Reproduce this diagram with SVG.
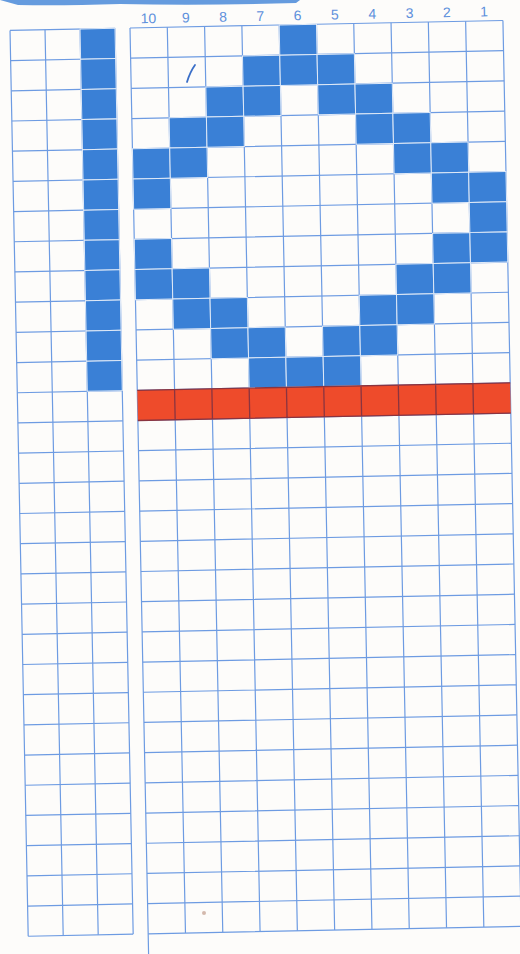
<svg xmlns="http://www.w3.org/2000/svg" width="520" height="954" viewBox="0 0 520 954">
<style>
.g{fill:none;stroke:#6d9be2;stroke-width:1.2}
.b{fill:#3a80d6;stroke:#dfe9f7;stroke-width:1}
.r{fill:#ee4b2b}
.rl{fill:none;stroke:#8a3440;stroke-width:1.3}
.n{font-family:"Liberation Sans",Arial,sans-serif;font-size:14px;fill:#5d90dc;text-anchor:middle}
</style>
<rect x="0" y="0" width="520" height="954" fill="#fdfcfa"/>
<path d="M0,0 H300 L296,3 Q200,6 120,4 Q60,6 18,5 Z" fill="#4a8ad8" opacity="0.85"/>
<g transform="translate(130,28) rotate(-1.15)">
<g id="labels">
<text class="n" x="18.65" y="-4.5">10</text>
<text class="n" x="55.95" y="-4.5">9</text>
<text class="n" x="93.25" y="-4.5">8</text>
<text class="n" x="130.55" y="-4.5">7</text>
<text class="n" x="167.85" y="-4.5">6</text>
<text class="n" x="205.15" y="-4.5">5</text>
<text class="n" x="242.45" y="-4.5">4</text>
<text class="n" x="279.75" y="-4.5">3</text>
<text class="n" x="317.05" y="-4.5">2</text>
<text class="n" x="354.35" y="-4.5">1</text>
</g>
<g id="grid-lines">
<path class="g" d="M0,0V930 M37.3,0V906 M74.6,0V906 M111.9,0V906 M149.2,0V906 M186.5,0V906 M223.8,0V906 M261.1,0V906 M298.4,0V906 M335.7,0V906 M373,0V906
M-120,0V906 M-85,0V906 M-50,0V906 M-15,0V906"/>
<path class="g" d="M0,0H373 M0,30.2H373 M0,60.4H373 M0,90.6H373 M0,120.8H373 M0,151H373 M0,181.2H373 M0,211.4H373 M0,241.6H373 M0,271.8H373 M0,302H373 M0,332.2H373 M0,362.4H373 M0,392.6H373 M0,422.8H373 M0,453H373 M0,483.2H373 M0,513.4H373 M0,543.6H373 M0,573.8H373 M0,604H373 M0,634.2H373 M0,664.4H373 M0,694.6H373 M0,724.8H373 M0,755H373 M0,785.2H373 M0,815.4H373 M0,845.6H373 M0,875.8H373 M0,906H373
M-120,0H-15 M-120,30.2H-15 M-120,60.4H-15 M-120,90.6H-15 M-120,120.8H-15 M-120,151H-15 M-120,181.2H-15 M-120,211.4H-15 M-120,241.6H-15 M-120,271.8H-15 M-120,302H-15 M-120,332.2H-15 M-120,362.4H-15 M-120,392.6H-15 M-120,422.8H-15 M-120,453H-15 M-120,483.2H-15 M-120,513.4H-15 M-120,543.6H-15 M-120,573.8H-15 M-120,604H-15 M-120,634.2H-15 M-120,664.4H-15 M-120,694.6H-15 M-120,724.8H-15 M-120,755H-15 M-120,785.2H-15 M-120,815.4H-15 M-120,845.6H-15 M-120,875.8H-15 M-120,906H-15"/>
</g>
<g id="left-column">
<rect class="b" x="-50" y="0" width="35" height="30.2"/>
<rect class="b" x="-50" y="30.2" width="35" height="30.2"/>
<rect class="b" x="-50" y="60.4" width="35" height="30.2"/>
<rect class="b" x="-50" y="90.6" width="35" height="30.2"/>
<rect class="b" x="-50" y="120.8" width="35" height="30.2"/>
<rect class="b" x="-50" y="151" width="35" height="30.2"/>
<rect class="b" x="-50" y="181.2" width="35" height="30.2"/>
<rect class="b" x="-50" y="211.4" width="35" height="30.2"/>
<rect class="b" x="-50" y="241.6" width="35" height="30.2"/>
<rect class="b" x="-50" y="271.8" width="35" height="30.2"/>
<rect class="b" x="-50" y="302" width="35" height="30.2"/>
<rect class="b" x="-50" y="332.2" width="35" height="30.2"/>
</g>
<g id="pattern">
<rect class="b" x="149.2" y="0" width="37.3" height="30.2"/>
<rect class="b" x="111.9" y="30.2" width="37.3" height="30.2"/>
<rect class="b" x="149.2" y="30.2" width="37.3" height="30.2"/>
<rect class="b" x="186.5" y="30.2" width="37.3" height="30.2"/>
<rect class="b" x="74.6" y="60.4" width="37.3" height="30.2"/>
<rect class="b" x="111.9" y="60.4" width="37.3" height="30.2"/>
<rect class="b" x="186.5" y="60.4" width="37.3" height="30.2"/>
<rect class="b" x="223.8" y="60.4" width="37.3" height="30.2"/>
<rect class="b" x="37.3" y="90.6" width="37.3" height="30.2"/>
<rect class="b" x="74.6" y="90.6" width="37.3" height="30.2"/>
<rect class="b" x="223.8" y="90.6" width="37.3" height="30.2"/>
<rect class="b" x="261.1" y="90.6" width="37.3" height="30.2"/>
<rect class="b" x="0" y="120.8" width="37.3" height="30.2"/>
<rect class="b" x="37.3" y="120.8" width="37.3" height="30.2"/>
<rect class="b" x="261.1" y="120.8" width="37.3" height="30.2"/>
<rect class="b" x="298.4" y="120.8" width="37.3" height="30.2"/>
<rect class="b" x="0" y="151" width="37.3" height="30.2"/>
<rect class="b" x="298.4" y="151" width="37.3" height="30.2"/>
<rect class="b" x="335.7" y="151" width="37.3" height="30.2"/>
<rect class="b" x="335.7" y="181.2" width="37.3" height="30.2"/>
<rect class="b" x="0" y="211.4" width="37.3" height="30.2"/>
<rect class="b" x="298.4" y="211.4" width="37.3" height="30.2"/>
<rect class="b" x="335.7" y="211.4" width="37.3" height="30.2"/>
<rect class="b" x="0" y="241.6" width="37.3" height="30.2"/>
<rect class="b" x="37.3" y="241.6" width="37.3" height="30.2"/>
<rect class="b" x="261.1" y="241.6" width="37.3" height="30.2"/>
<rect class="b" x="298.4" y="241.6" width="37.3" height="30.2"/>
<rect class="b" x="37.3" y="271.8" width="37.3" height="30.2"/>
<rect class="b" x="74.6" y="271.8" width="37.3" height="30.2"/>
<rect class="b" x="223.8" y="271.8" width="37.3" height="30.2"/>
<rect class="b" x="261.1" y="271.8" width="37.3" height="30.2"/>
<rect class="b" x="74.6" y="302" width="37.3" height="30.2"/>
<rect class="b" x="111.9" y="302" width="37.3" height="30.2"/>
<rect class="b" x="186.5" y="302" width="37.3" height="30.2"/>
<rect class="b" x="223.8" y="302" width="37.3" height="30.2"/>
<rect class="b" x="111.9" y="332.2" width="37.3" height="30.2"/>
<rect class="b" x="149.2" y="332.2" width="37.3" height="30.2"/>
<rect class="b" x="186.5" y="332.2" width="37.3" height="30.2"/>
</g>
<g id="red-row">
<rect class="r" x="0" y="362.4" width="373" height="30.2"/>
<path class="rl" d="M0,362.4H373 M0,392.6H373 M37.3,362.4V392.6 M74.6,362.4V392.6 M111.9,362.4V392.6 M149.2,362.4V392.6 M186.5,362.4V392.6 M223.8,362.4V392.6 M261.1,362.4V392.6 M298.4,362.4V392.6 M335.7,362.4V392.6"/>
</g>
</g>
<path d="M187,82 Q190,72 195,65" fill="none" stroke="#3b6fc8" stroke-width="1.8" stroke-linecap="round"/>
<circle cx="204" cy="913" r="2" fill="#c8a898" opacity="0.8"/>
</svg>
